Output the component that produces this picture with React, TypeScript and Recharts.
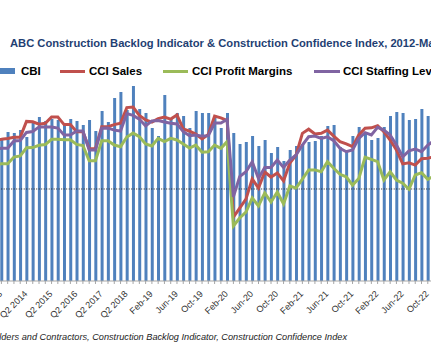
import { ComposedChart, Bar, Line, XAxis, YAxis, ReferenceLine } from "recharts";

// categories: quarterly through 2018, monthly from Jan-19 (first and last sit just outside the frame)
const categories = [
  "Q1 2013", "Q2 2013", "Q3 2013", "Q4 2013",
  "Q1 2014", "Q2 2014", "Q3 2014", "Q4 2014",
  "Q1 2015", "Q2 2015", "Q3 2015", "Q4 2015",
  "Q1 2016", "Q2 2016", "Q3 2016", "Q4 2016",
  "Q1 2017", "Q2 2017", "Q3 2017", "Q4 2017",
  "Q1 2018", "Q2 2018", "Q3 2018", "Q4 2018",
  "Jan-19", "Feb-19", "Mar-19", "Apr-19", "May-19", "Jun-19", "Jul-19", "Aug-19", "Sep-19", "Oct-19", "Nov-19", "Dec-19",
  "Jan-20", "Feb-20", "Mar-20", "Apr-20", "May-20", "Jun-20", "Jul-20", "Aug-20", "Sep-20", "Oct-20", "Nov-20", "Dec-20",
  "Jan-21", "Feb-21", "Mar-21", "Apr-21", "May-21", "Jun-21", "Jul-21", "Aug-21", "Sep-21", "Oct-21", "Nov-21", "Dec-21",
  "Jan-22", "Feb-22", "Mar-22", "Apr-22", "May-22", "Jun-22", "Jul-22", "Aug-22", "Sep-22", "Oct-22", "Nov-22",
];

const labelled = [
  "Q2 2013", "Q2 2014", "Q2 2015", "Q2 2016", "Q2 2017", "Q2 2018",
  "Feb-19", "Jun-19", "Oct-19", "Feb-20", "Jun-20", "Oct-20",
  "Feb-21", "Jun-21", "Oct-21", "Feb-22", "Jun-22", "Oct-22",
];

// CBI, months
const cbi = [
  7.3,
  7.05, 7.45, 7.4, 7.55, 7.2, 7.9, 8.2, 8.0, 8.1, 8.05,
  7.8, 8.1, 8.0, 7.8, 8.05, 7.5, 8.5, 7.95, 9.15, 9.45,
  8.55, 9.75, 8.6, 8.4, 7.65, 7.25, 9.3, 8.15, 8.4, 8.25,
  7.65, 8.5, 8.4, 8.4, 8.2, 7.65, 8.4, 7.4, 6.85, 6.95,
  7.25, 6.75, 7.05, 6.4, 6.7, 6.0, 6.55, 6.75, 6.85, 6.95,
  7.0, 7.25, 7.75, 7.8, 6.7, 6.55, 7.25, 7.7, 7.4, 7.05,
  7.15, 7.7, 8.25, 8.45, 8.4, 8.05, 8.1, 8.6, 8.25, 8.3,
];

const cciSales = [
  60.65,
  60.8, 61.0, 61.25, 61.25, 64.7, 64.6, 64.1, 64.3, 65.65, 65.65,
  64.0, 64.0, 62.45, 62.45, 58.75, 58.75, 63.55, 63.55, 64.0, 64.3,
  67.7, 67.8, 66.0, 65.0, 64.55, 65.3, 65.65, 65.2, 66.1, 63.05,
  62.6, 61.95, 60.9, 61.85, 65.85, 65.45, 64.9, 43.9, 45.85, 47.8,
  52.2, 50.2, 53.7, 52.6, 53.5, 51.75, 55.65, 57.4, 62.1, 63.0,
  61.95, 62.1, 62.8, 61.5, 60.3, 59.8, 59.2, 61.75, 63.2, 63.3,
  63.75, 62.45, 60.65, 58.5, 55.45, 55.7, 55.2, 56.6, 56.7, 57.0,
];

const cciProfit = [
  55.2,
  55.5, 55.5, 56.95, 57.2, 58.95, 59.0, 59.5, 59.65, 60.8, 60.8,
  60.7, 60.7, 59.7, 59.45, 56.15, 56.15, 60.5, 60.5, 59.55, 59.2,
  61.3, 62.15, 61.35, 59.8, 59.35, 61.0, 60.3, 61.0, 60.65, 59.8,
  58.9, 59.55, 58.0, 58.1, 59.55, 58.85, 60.3, 41.95, 43.7, 45.0,
  48.05, 46.3, 49.15, 47.15, 49.35, 46.75, 50.65, 50.2, 52.15, 54.15,
  54.15, 53.75, 55.95, 54.5, 53.2, 52.65, 50.85, 52.3, 56.9, 56.45,
  55.95, 51.95, 53.75, 51.95, 51.25, 49.95, 53.05, 53.55, 52.1, 52.8,
];

const cciStaffing = [
  58.7,
  58.85, 58.85, 60.45, 60.55, 62.3, 62.5, 63.5, 63.5, 63.5, 63.25,
  61.75, 61.75, 62.6, 62.6, 58.5, 58.5, 63.2, 63.25, 62.8, 62.6,
  66.4, 66.0, 65.2, 63.7, 64.8, 64.9, 64.55, 64.3, 64.15, 62.5,
  61.6, 61.75, 61.5, 61.6, 64.35, 64.35, 65.1, 48.3, 52.7, 53.75,
  55.9, 52.3, 54.7, 54.7, 56.3, 54.7, 56.3, 57.4, 59.55, 61.35,
  61.5, 61.0, 61.35, 60.5, 58.85, 58.1, 58.5, 61.0, 62.25, 61.75,
  63.4, 62.8, 61.75, 59.55, 57.0, 58.3, 58.7, 58.1, 59.55, 60.5,
];

const rows = categories.map((c, i) => ({
  c,
  cbi: cbi[i],
  sales: cciSales[i],
  profit: cciProfit[i],
  staffing: cciStaffing[i],
}));

const FONT = '"Liberation Sans", Arial, sans-serif';

function DiagTick(props: any) {
  const { x, y, payload } = props;
  if (!labelled.includes(payload.value)) return null;
  return (
    <text
      transform={`translate(${x + 1.5},${y + 8.5}) rotate(-45)`}
      textAnchor="end"
      fontSize={9}
      fontFamily={FONT}
      fill="#333"
    >
      {payload.value}
    </text>
  );
}

const legendItems = [
  { name: "CBI", color: "#4F81BD", x0: -10, x1: 15, tx: 21, bar: true },
  { name: "CCI Sales", color: "#C0504D", x0: 60, x1: 85, tx: 89 },
  { name: "CCI Profit Margins", color: "#9BBB59", x0: 163, x1: 188, tx: 192 },
  { name: "CCI Staffing Levels", color: "#8064A2", x0: 314, x1: 340, tx: 343 },
];

export default function App() {
  return (
    <div
      style={{
        position: "relative",
        width: 431,
        height: 360,
        overflow: "hidden",
        background: "#fff",
        fontFamily: FONT,
      }}
    >
      <style>{"body{margin:0}"}</style>
      <div
        style={{
          position: "absolute",
          left: 10,
          top: 36,
          lineHeight: "14px",
          fontSize: 11.2,
          fontWeight: "bold",
          color: "#1F3F73",
          whiteSpace: "nowrap",
        }}
      >
        ABC Construction Backlog Indicator &amp; Construction Confidence Index, 2012-March 2023
      </div>

      {legendItems.map((l) => (
        <div key={l.name}>
          <div
            style={{
              position: "absolute",
              left: l.x0,
              width: l.x1 - l.x0,
              top: l.bar ? 68 : 70,
              height: l.bar ? 6 : 3,
              background: l.color,
            }}
          />
          <div
            style={{
              position: "absolute",
              left: l.tx,
              top: 64,
              lineHeight: "14px",
              fontSize: 11.5,
              fontWeight: "bold",
              color: "#000",
              whiteSpace: "nowrap",
            }}
          >
            {l.name}
          </div>
        </div>
      ))}

      <div style={{ position: "absolute", left: -7.7, top: 0 }}>
        <ComposedChart
          width={445.2}
          height={360}
          data={rows}
          margin={{ top: 51, right: 0, bottom: 0, left: 0 }}
        >
          <XAxis
            dataKey="c"
            interval={0}
            height={79}
            tickSize={3}
            tickMargin={2}
            tick={<DiagTick />}
            stroke="#A6A6A6"
            tickLine={{ stroke: "#A6A6A6" }}
          />
          <YAxis yAxisId="left" hide domain={[0, 11.5]} />
          <YAxis yAxisId="right" orientation="right" hide domain={[30, 80]} />
          <Bar yAxisId="left" dataKey="cbi" fill="#4F81BD" barSize={3} isAnimationActive={false} />
          <ReferenceLine yAxisId="right" y={50} stroke="#222" strokeDasharray="1 1.5" strokeWidth={1} />
          <Line yAxisId="right" dataKey="sales" stroke="#C0504D" strokeWidth={3} dot={false} isAnimationActive={false} />
          <Line yAxisId="right" dataKey="profit" stroke="#9BBB59" strokeWidth={3} dot={false} isAnimationActive={false} />
          <Line yAxisId="right" dataKey="staffing" stroke="#8064A2" strokeWidth={3} dot={false} isAnimationActive={false} />
        </ComposedChart>
      </div>

      <div
        style={{
          position: "absolute",
          right: 84,
          top: 331,
          lineHeight: "12px",
          fontSize: 9.2,
          fontStyle: "italic",
          color: "#222",
          whiteSpace: "nowrap",
        }}
      >
        Source: Associated Builders and Contractors, Construction Backlog Indicator, Construction Confidence Index
      </div>
    </div>
  );
}
